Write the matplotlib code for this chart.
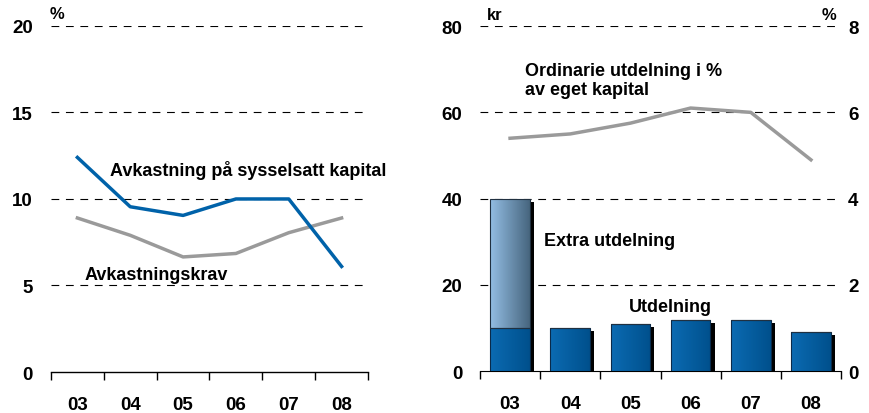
import numpy as np
import matplotlib
matplotlib.use("Agg")
from matplotlib import pyplot as plt
from matplotlib.colors import LinearSegmentedColormap

plt.rcParams['font.family'] = ['Liberation Sans', 'DejaVu Sans']
plt.rcParams['font.weight'] = 'bold'

years = ['03', '04', '05', '06', '07', '08']
roce = [12.4, 9.55, 9.05, 10.0, 10.0, 6.1]
krav = [8.9, 7.9, 6.65, 6.85, 8.05, 8.9]

utdelning = [10, 10, 11, 12, 12, 9]
extra = [30, 0, 0, 0, 0, 0]
ord_pct = [5.4, 5.5, 5.75, 6.1, 6.0, 4.9]

BLUE = '#0062A9'
GREY = '#9A9A9A'
FS = 13

fig = plt.figure(figsize=(8.7, 4.14), dpi=100)

# ---- left panel
ax = fig.add_axes([0.0586, 0.099, 0.3644, 0.836])
x = np.arange(len(years))
ax.set_xlim(-0.5, len(years) - 0.5)
ax.set_ylim(0, 20)
for v in [5, 10, 15, 20]:
    ax.axhline(v, xmin=0, xmax=0.99, color='black', lw=0.8, ls=(0, (7, 6)), zorder=1)
ax.plot(x, krav, color=GREY, lw=2.5, zorder=3)
ax.plot(x, roce, color=BLUE, lw=2.5, zorder=4)
ax.set_yticks([0, 5, 10, 15, 20])
ax.tick_params(axis='y', length=0, pad=13, labelsize=13.5)
ax.set_xticks(x)
ax.set_xticklabels(years)
ax.tick_params(axis='x', length=0, pad=17, labelsize=13.5)
ax.set_xticks(np.arange(-0.5, len(years)), minor=True)
ax.tick_params(axis='x', which='minor', length=6, width=1, color='black')
for s in ['top', 'right', 'left']:
    ax.spines[s].set_visible(False)
ax.spines['bottom'].set_linewidth(1)
ax.text(-0.52, 20.3, '%', fontsize=12, fontweight='bold', ha='left', va='bottom')
ax.text(0.62, 11.7, 'Avkastning på sysselsatt kapital', fontsize=FS,
        fontweight='bold', va='center')
ax.text(0.13, 5.66, 'Avkastningskrav', fontsize=FS, fontweight='bold', va='center')

# ---- right panel
bx = fig.add_axes([0.5517, 0.1007, 0.415, 0.834])
bx.set_xlim(-0.5, len(years) - 0.5)
bx.set_ylim(0, 80)
for v in [20, 40, 60, 80]:
    bx.axhline(v, color='black', lw=0.8, ls=(0, (7, 6)), zorder=1)

width = 0.66
tot = np.array(utdelning) + np.array(extra)
# shadows
bx.bar(x + 0.07, tot - 0.7, width=width, color='black', zorder=2)

cm_main = LinearSegmentedColormap.from_list('m', ['#0B6BB3', '#00508C'])
cm_extra = LinearSegmentedColormap.from_list('e', ['#93BDE3', '#47667F'])
grad = np.linspace(0, 1, 64).reshape(1, -1)


def grad_bars(bars, cmap):
    for p in bars:
        if p.get_height() <= 0:
            continue
        x0, y0 = p.get_x(), p.get_y()
        im = bx.imshow(grad, cmap=cmap, aspect='auto', zorder=3,
                       extent=[x0, x0 + p.get_width(), y0, y0 + p.get_height()])
        im.set_clip_path(p)


b1 = bx.bar(x, utdelning, width=width, facecolor='none', edgecolor='#0A2A4A',
            lw=0.8, zorder=4)
b2 = bx.bar(x, extra, bottom=utdelning, width=width, facecolor='none',
            edgecolor='#203040', lw=0.8, zorder=4)
grad_bars(b1, cm_main)
grad_bars(b2, cm_extra)
bx.set_xlim(-0.5, len(years) - 0.5)
bx.set_ylim(0, 80)

bx.set_yticks([0, 20, 40, 60, 80])
bx.tick_params(axis='y', length=0, pad=12.5, labelsize=13.5)
bx.set_xticks(x)
bx.set_xticklabels(years)
bx.tick_params(axis='x', length=0, pad=17, labelsize=13.5)
bx.set_xticks(np.arange(-0.5, len(years)), minor=True)
bx.tick_params(axis='x', which='minor', length=6, width=1, color='black')
for s in ['top', 'right', 'left']:
    bx.spines[s].set_visible(False)

b2x = bx.twinx()
b2x.set_ylim(0, 8)
b2x.plot(x, ord_pct, color=GREY, lw=2.5, zorder=5)
b2x.set_yticks([0, 2, 4, 6, 8])
b2x.tick_params(axis='y', length=0, pad=5, labelsize=13.5)
for s in ['top', 'right', 'left', 'bottom']:
    b2x.spines[s].set_visible(False)

bx.text(-0.38, 81, 'kr', fontsize=12, fontweight='bold', ha='left', va='bottom')
bx.text(5.18, 81, '%', fontsize=12, fontweight='bold', ha='left', va='bottom')
bx.text(0.25, 67.5, 'Ordinarie utdelning i %\nav eget kapital', fontsize=FS,
        fontweight='bold', va='center', linespacing=1.1)
bx.text(0.56, 30.4, 'Extra utdelning', fontsize=FS, fontweight='bold', va='center')
bx.text(1.98, 15, 'Utdelning', fontsize=FS, fontweight='bold', va='center')

fig.savefig('out.png', dpi=100)
